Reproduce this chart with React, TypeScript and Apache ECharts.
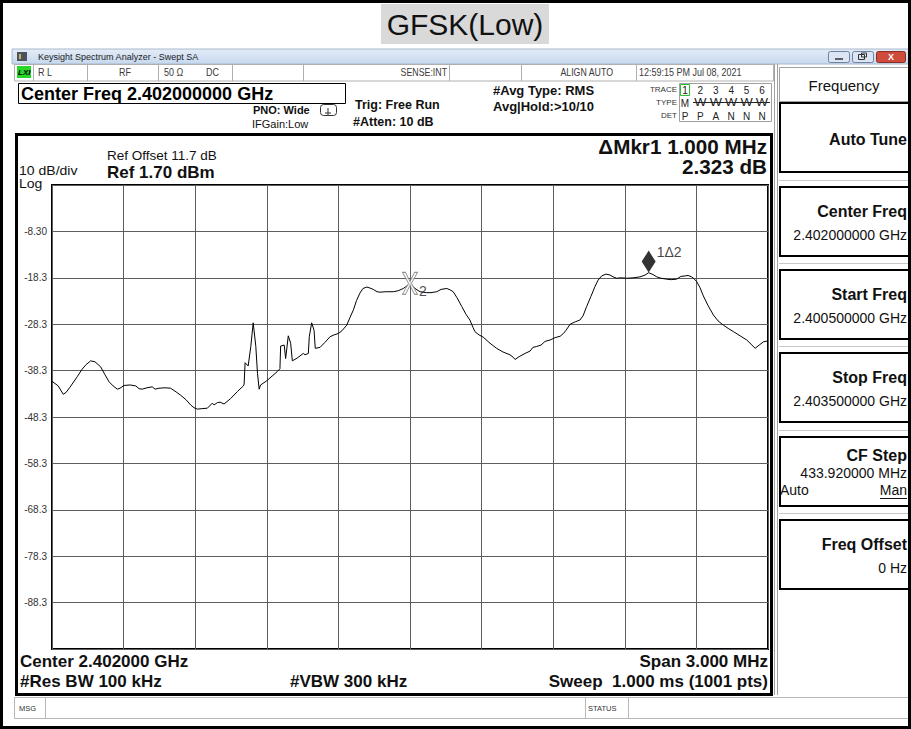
import React, { useEffect, useRef } from "react";
import * as echarts from "echarts";

const FONT = '"Liberation Sans", Arial, sans-serif';

const titleText = "GFSK(Low)";

// Trace: frequency offset from centre (kHz) and level (dBm)
const freqOffsetKHz = [
  -1500, -1474, -1453, -1441, -1425, -1394, -1374, -1357, -1338, -1320,
  -1296, -1278, -1261, -1244, -1226, -1215, -1198, -1173, -1149, -1135,
  -1122, -1102, -1080, -1068, -1052, -1026, -1003, -980, -961, -938,
  -919, -905, -891, -871, -849, -828, -821, -807, -796, -779,
  -751, -723, -698, -695, -691, -678, -667, -657, -646, -639,
  -632, -626, -603, -578, -556, -545, -542, -527, -521, -510,
  -500, -493, -473, -447, -440, -426, -422, -412, -402, -397,
  -377, -356, -335, -318, -300, -285, -265, -251, -237, -224,
  -210, -197, -181, -168, -154, -138, -126, -101, -70, -50,
  -28, -17, 0, 21, 42, 70, 88, 112, 130, 154,
  168, 181, 197, 217, 235, 251, 264, 272, 289, 307,
  335, 363, 390, 419, 432, 440, 457, 482, 503, 515,
  531, 549, 566, 587, 608, 629, 643, 654, 671, 692,
  712, 725, 740, 758, 775, 788, 803, 821, 838, 851,
  866, 884, 908, 935, 964, 985, 1000, 1018, 1034, 1052,
  1076, 1094, 1117, 1135, 1152, 1165, 1180, 1190, 1201, 1215,
  1229, 1249, 1271, 1291, 1313, 1333, 1355, 1383, 1411, 1429,
  1446, 1463, 1481, 1500,
];
const levelDbm = [
  -40.6, -41.6, -43.4, -43.0, -41.9, -39.6, -38.0, -37.0, -36.2, -36.4,
  -37.5, -39.2, -40.7, -41.6, -42.3, -42.1, -41.5, -41.4, -41.6, -42.2,
  -42.3, -42.0, -41.8, -42.3, -42.1, -42.0, -42.1, -42.9, -43.6, -44.6,
  -45.7, -46.3, -46.6, -46.5, -46.4, -45.3, -45.7, -45.2, -45.1, -45.5,
  -44.3, -42.8, -41.6, -41.2, -36.6, -37.3, -33.1, -28.0, -33.1, -38.9,
  -42.3, -41.4, -40.6, -39.5, -38.5, -37.9, -33.0, -32.8, -35.7, -30.8,
  -32.4, -36.2, -35.6, -34.6, -34.9, -34.6, -31.0, -28.0, -29.6, -33.5,
  -33.3, -32.2, -31.0, -30.6, -30.3, -29.7, -28.5, -26.8, -25.2, -23.2,
  -21.6, -20.6, -20.3, -20.5, -20.8, -21.3, -21.4, -21.3, -21.3, -21.1,
  -20.6, -20.2, -19.6, -20.6, -21.3, -21.5, -21.5, -21.3, -20.8, -20.6,
  -20.9, -21.3, -22.6, -24.5, -26.2, -27.4, -29.0, -29.9, -30.6, -31.1,
  -32.4, -33.5, -34.3, -34.9, -35.4, -35.9, -35.3, -34.6, -34.1, -33.3,
  -33.1, -32.8, -32.0, -31.7, -31.2, -30.9, -30.3, -29.6, -28.3, -27.8,
  -27.4, -26.5, -24.5, -22.3, -20.2, -18.8, -17.9, -17.5, -17.7, -18.1,
  -18.4, -18.3, -18.4, -18.3, -18.1, -17.7, -17.2, -17.6, -18.1, -18.4,
  -18.6, -18.7, -18.6, -18.0, -17.9, -17.8, -18.1, -18.5, -19.1, -20.4,
  -22.2, -24.3, -26.3, -27.6, -28.5, -29.2, -29.9, -30.8, -31.7, -32.6,
  -33.5, -32.8, -32.1, -31.9,
];

const refLevel = 1.7;
const dbPerDiv = 10;
const yTickLabels = ["-8.30", "-18.3", "-28.3", "-38.3", "-48.3", "-58.3", "-68.3", "-78.3", "-88.3"];
const halfSpanKHz = 1500;
const kHzPerDiv = 300;

const markerFreqKHz = [1000, 0];
const markerLevelDbm = [-17.18, -19.5];
const markerLabels = ["1\u03942", "2"];

const statusTexts = ["R L", "RF", "50 \u03a9", "DC", "SENSE:INT", "ALIGN AUTO", "12:59:15 PM Jul 08, 2021"];
const softkeyTitles = ["Auto Tune", "Center Freq", "Start Freq", "Stop Freq", "CF Step", "Freq Offset"];
const softkeyValues = ["", "2.402000000 GHz", "2.400500000 GHz", "2.403500000 GHz", "433.920000 MHz", "0 Hz"];
const traceNumbers = ["1", "2", "3", "4", "5", "6"];
const traceDet = ["P", "P", "A", "N", "N", "N"];

function txt(x: number, y: number, text: string, size: number, o: any = {}) {
  const align = o.align || "left";
  return {
    type: "text",
    x,
    y,
    z: o.z ?? 30,
    silent: true,
    scaleX: o.sx ?? 1,
    style: {
      text,
      fontSize: size,
      fontFamily: o.family || FONT,
      fontWeight: o.bold ? "bold" : "normal",
      fontStyle: o.italic ? "italic" : "normal",
      fill: o.color || "#000",
      align,
      textAlign: align,
      verticalAlign: "middle",
      textVerticalAlign: "middle",
    },
  };
}
function box(x: number, y: number, w: number, h: number, stroke: string, fill: any = "none", lw = 1, z = 5, r = 0) {
  return {
    type: "rect",
    z,
    silent: true,
    shape: { x, y, width: w, height: h, r },
    style: { fill, stroke, lineWidth: lw },
  };
}
function ln(x1: number, y1: number, x2: number, y2: number, stroke: string, lw = 1, z = 6) {
  return { type: "line", z, silent: true, shape: { x1, y1, x2, y2 }, style: { stroke, lineWidth: lw } };
}

function buildGraphics() {
  const g: any[] = [];
  // title
  g.push(box(381, 4, 168, 40, "none", "#d9d9d9", 1, 2));
  g.push(txt(465, 24.5, titleText, 30, { align: "center", color: "#111" }));

  // window title bar
  g.push(
    box(12, 49, 897, 15, "#a9b8cc", new (echarts as any).graphic.LinearGradient(0, 0, 0, 1, [
      { offset: 0, color: "#e4edf8" },
      { offset: 1, color: "#c6d7ee" },
    ]), 1, 2)
  );
  g.push(box(17, 52, 10, 9, "none", "#4d525c", 1, 3));
  g.push(box(19, 54, 2, 5, "none", "#c9b25a", 1, 4));
  g.push(txt(38, 57, "Keysight Spectrum Analyzer - Swept SA", 9.5, { color: "#1b1b1b", sx: 0.95 }));
  // window buttons
  g.push(box(828.5, 51.5, 21, 11, "#6f819f", "#dbe5f3", 1, 3, 2));
  g.push(ln(835, 59, 843, 59, "#333", 1.5, 4));
  g.push(box(852.5, 51.5, 21, 11, "#6f819f", "#dbe5f3", 1, 3, 2));
  g.push(box(858.5, 54.5, 6, 5, "#333", "none", 1, 4));
  g.push(box(861.5, 53, 5, 4, "#333", "none", 1, 4));
  g.push(box(876.5, 51.5, 29, 11, "#8a2c22", "#cf4c3c", 1, 3, 2));
  g.push(txt(891, 57, "X", 9, { align: "center", bold: true, color: "#fff" }));

  // status row
  g.push(box(14.5, 64.5, 759, 16.5, "#b0b0b0", "#fff", 1, 2));
  [33, 87, 158, 232, 303, 449, 521, 636].forEach((x) => g.push(ln(x + 0.5, 65, x + 0.5, 81, "#b0b0b0", 1, 3)));
  g.push(box(17, 66, 14, 12, "none", "#27d827", 1, 3));
  g.push(txt(18, 72.5, "LXI", 8, { bold: true, italic: true, color: "#000" }));
  const sc = "#3a3a3a";
  g.push(txt(38, 72.5, statusTexts[0], 10, { color: sc, sx: 0.9 }));
  g.push(txt(125, 72.5, statusTexts[1], 10, { color: sc, sx: 0.9, align: "center" }));
  g.push(txt(164, 72.5, statusTexts[2], 10, { color: sc, sx: 0.9 }));
  g.push(txt(206, 72.5, statusTexts[3], 10, { color: sc, sx: 0.9 }));
  g.push(txt(447, 72.5, statusTexts[4], 10, { color: sc, sx: 0.88, align: "right" }));
  g.push(txt(613, 72.5, statusTexts[5], 10, { color: sc, sx: 0.88, align: "right" }));
  g.push(txt(639, 72.5, statusTexts[6], 10, { color: sc, sx: 0.9 }));

  // header row
  g.push(box(18.5, 83.5, 327, 20, "#000", "#fff", 1, 3));
  g.push(txt(21, 94, "Center Freq 2.402000000 GHz", 18, { bold: true }));
  g.push(txt(253, 110, "PNO: Wide", 11, { bold: true, color: "#111" }));
  g.push(box(320.5, 104.5, 16, 11, "#333", "none", 1, 3, 3));
  g.push(ln(328, 108, 328, 116, "#333", 1, 4));
  g.push(ln(325, 113, 331, 113, "#333", 1, 4));
  g.push(txt(252, 123.5, "IFGain:Low", 11, { color: "#111" }));
  g.push(txt(355, 105, "Trig: Free Run", 12.5, { bold: true, color: "#111" }));
  g.push(txt(353, 122, "#Atten: 10 dB", 12.5, { bold: true, color: "#111" }));
  g.push(txt(493, 90, "#Avg Type: RMS", 13, { bold: true, color: "#111" }));
  g.push(txt(493, 106, "Avg|Hold:>10/10", 13, { bold: true, color: "#111" }));
  // trace table
  g.push(txt(677, 89.5, "TRACE", 8, { align: "right", color: "#333" }));
  g.push(txt(677, 102.5, "TYPE", 8, { align: "right", color: "#333" }));
  g.push(txt(677, 115.5, "DET", 8, { align: "right", color: "#333" }));
  g.push(box(679.5, 83.5, 92, 38, "#a0a0a0", "none", 1, 3));
  g.push(box(680.5, 84.5, 9, 11, "#2fbf2f", "none", 1, 4));
  traceNumbers.forEach((t, i) => g.push(txt(685 + i * 15.4, 90, t, 10, { align: "center", color: "#222" })));
  g.push(txt(685, 103, "M", 10, { align: "center", color: "#222" }));
  for (let i = 1; i < 6; i++) g.push(txt(685 + i * 15.4, 103, "W", 10, { align: "center", color: "#222", sx: 1.3 }));
  g.push(ln(693, 102.5, 770, 102.5, "#222", 1, 31));
  traceDet.forEach((t, i) => g.push(txt(685 + i * 15.4, 116, t, 10, { align: "center", color: "#222" })));

  // graph panel
  g.push(box(16.5, 134.5, 755, 560, "#000", "none", 3, 20));
  g.push(txt(107, 155, "Ref Offset 11.7 dB", 13.5, { color: "#111" }));
  g.push(txt(107, 172.5, "Ref 1.70 dBm", 17, { bold: true, color: "#111" }));
  g.push(txt(19, 171, "10 dB/div", 13, { color: "#111", sx: 1.08 }));
  g.push(txt(19, 184, "Log", 13, { color: "#111", sx: 1.08 }));
  g.push(txt(767, 147, "\u0394Mkr1 1.000 MHz", 19.5, { bold: true, align: "right", color: "#111", sx: 1.06 }));
  g.push(txt(767, 167, "2.323 dB", 19.5, { bold: true, align: "right", color: "#111", sx: 1.06 }));
  g.push(txt(20, 661.5, "Center 2.402000 GHz", 17, { bold: true, color: "#111" }));
  g.push(txt(768, 661.5, "Span 3.000 MHz", 17, { bold: true, align: "right", color: "#111" }));
  g.push(txt(20, 681.5, "#Res BW 100 kHz", 17, { bold: true, color: "#111" }));
  g.push(txt(290, 681.5, "#VBW 300 kHz", 17, { bold: true, color: "#111" }));
  g.push(txt(768, 681.5, "Sweep  1.000 ms (1001 pts)", 17, { bold: true, align: "right", color: "#111" }));

  // right softkey panel
  g.push(ln(774.5, 64, 774.5, 695, "#a0a0a0", 1, 3));
  g.push(ln(777.5, 64, 777.5, 695, "#a0a0a0", 1, 3));
  g.push(box(779.5, 67.5, 140, 34, "#a0a0a0", "#fff", 1, 3));
  g.push(txt(844, 85, "Frequency", 15, { align: "center", color: "#111" }));
  const tops = [103, 187, 270, 353, 437, 520];
  tops.forEach((top, i) => {
    g.push(box(780, top, 140, 69, "#000", "#fff", 2, 4));
    if (i > 0) g.push(ln(779, top - 6.5, 911, top - 6.5, "#c8c8c8", 1, 3));
    if (i === 0) {
      g.push(txt(907, top + 36, softkeyTitles[i], 16, { bold: true, align: "right", color: "#111" }));
    } else if (i === 4) {
      g.push(txt(907, top + 18, softkeyTitles[i], 16, { bold: true, align: "right", color: "#111" }));
      g.push(txt(907, top + 36, softkeyValues[i], 14, { align: "right", color: "#111" }));
      g.push(txt(780, top + 53, "Auto", 14, { color: "#111" }));
      g.push(txt(907, top + 53, "Man", 14, { align: "right", color: "#111" }));
      g.push(ln(880, top + 61.5, 907, top + 61.5, "#111", 1, 31));
    } else {
      g.push(txt(907, top + 24, softkeyTitles[i], 16, { bold: true, align: "right", color: "#111" }));
      g.push(txt(907, top + 47.5, softkeyValues[i], 14, { align: "right", color: "#111" }));
    }
  });

  // message bar
  g.push(box(14.5, 697.5, 894, 21, "#b8b8b8", "#fff", 1, 3));
  [45, 585, 628].forEach((x) => g.push(ln(x + 0.5, 698, x + 0.5, 718, "#b8b8b8", 1, 4)));
  g.push(txt(19, 708, "MSG", 7.5, { color: "#333" }));
  g.push(txt(588, 708, "STATUS", 7.5, { color: "#333" }));

  // outer frame
  g.push(box(1.5, 1.5, 908, 726, "#000", "none", 3, 50));
  return g;
}

function buildOption() {
  const trace = freqOffsetKHz.map((f, i) => [f, levelDbm[i]]);
  return {
    animation: false,
    backgroundColor: "#fff",
    textStyle: { fontFamily: FONT },
    grid: {
      left: 52,
      top: 185,
      width: 716,
      height: 464,
      show: true,
      borderColor: "#000",
      borderWidth: 2,
      backgroundColor: "transparent",
    },
    xAxis: {
      type: "value",
      min: -halfSpanKHz,
      max: halfSpanKHz,
      interval: kHzPerDiv,
      axisLabel: { show: false },
      axisTick: { show: false },
      axisLine: { show: false },
      splitLine: { show: true, lineStyle: { color: "#5e5e5e", width: 1 } },
    },
    yAxis: {
      type: "value",
      min: refLevel - 10 * dbPerDiv,
      max: refLevel,
      interval: dbPerDiv,
      axisTick: { show: false },
      axisLine: { show: false },
      splitLine: { show: true, lineStyle: { color: "#5e5e5e", width: 1 } },
      axisLabel: {
        margin: 5,
        fontSize: 10,
        color: "#333",
        fontFamily: FONT,
        formatter: (v: number) => {
          const idx = Math.round((refLevel - v) / dbPerDiv) - 1;
          return idx >= 0 && idx < yTickLabels.length ? yTickLabels[idx] : "";
        },
      },
    },
    graphic: { elements: buildGraphics() },
    series: [
      {
        type: "line",
        data: trace,
        showSymbol: false,
        symbol: "none",
        silent: true,
        z: 3,
        lineStyle: { color: "#000", width: 1 },
      },
      {
        type: "scatter",
        z: 5,
        silent: true,
        data: [[markerFreqKHz[0], markerLevelDbm[0]]],
        symbol: "diamond",
        symbolSize: [14, 22],
        symbolOffset: [0, -11],
        itemStyle: { color: "#000" },
        label: {
          show: true,
          formatter: markerLabels[0],
          position: [15, 1],
          align: "left",
          verticalAlign: "middle",
          fontSize: 14,
          color: "#111",
          fontFamily: FONT,
        },
      },
      {
        type: "scatter",
        z: 5,
        silent: true,
        data: [[markerFreqKHz[1], markerLevelDbm[1]]],
        symbol: "path://M0,0L3,0L7.5,9L12,0L15,0L9,11L15,22L12,22L7.5,13L3,22L0,22L6,11Z",
        symbolSize: [15, 22],
        itemStyle: { color: "#fff", borderColor: "#7a7a7a", borderWidth: 1 },
        label: {
          show: true,
          formatter: markerLabels[1],
          position: [17, 19],
          align: "left",
          verticalAlign: "middle",
          fontSize: 14,
          color: "#222",
          fontFamily: FONT,
        },
      },
    ],
  };
}

export default function App() {
  const ref = useRef<HTMLDivElement>(null);
  useEffect(() => {
    if (!ref.current) return;
    const chart = echarts.init(ref.current, null, { renderer: "svg", width: 911, height: 729 });
    chart.setOption(buildOption() as any);
    return () => chart.dispose();
  }, []);
  return (
    <div
      ref={ref}
      style={{ position: "fixed", left: 0, top: 0, width: 911, height: 729, background: "#fff" }}
    />
  );
}
